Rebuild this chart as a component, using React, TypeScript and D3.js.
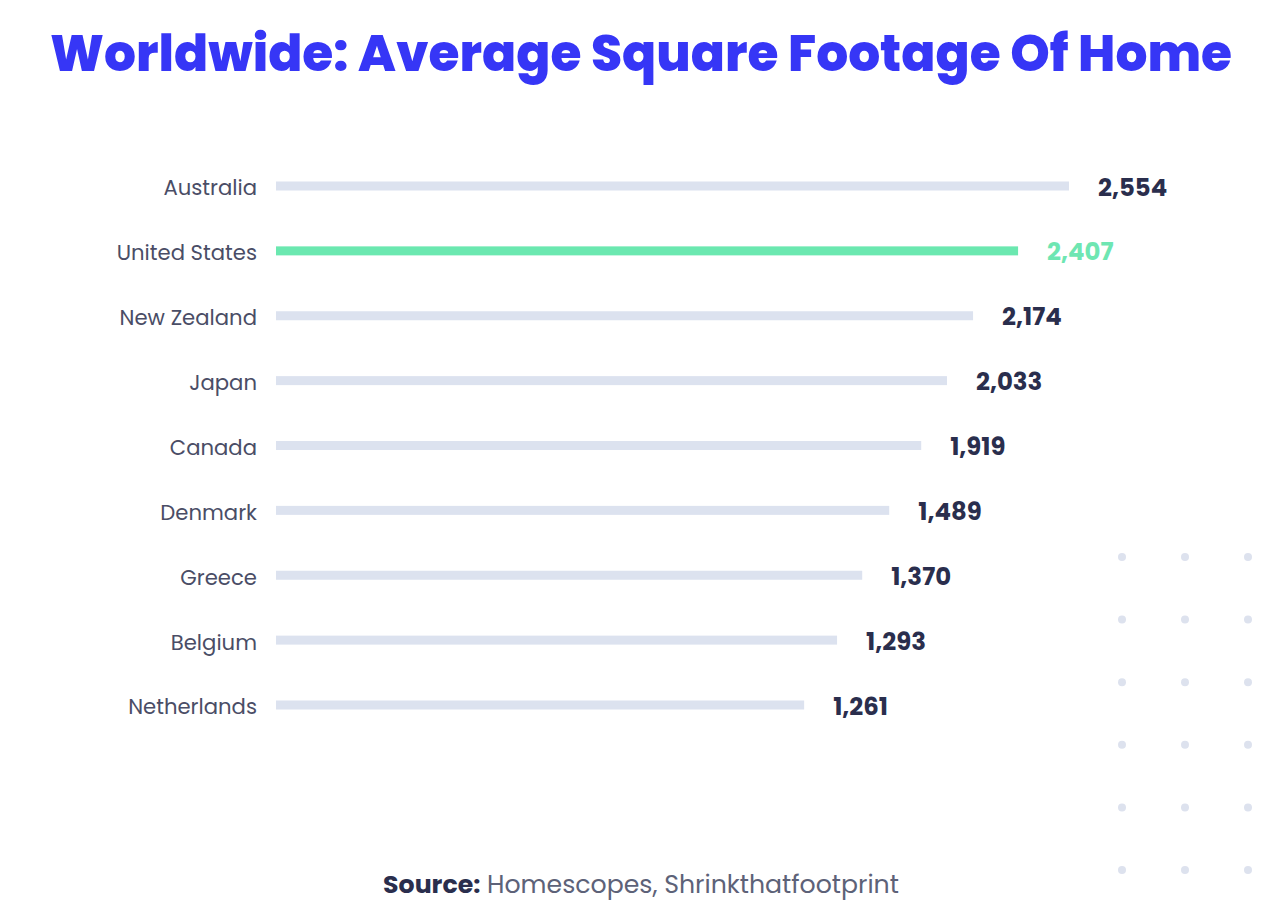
import React from "react";
import * as d3 from "d3";

const countries = [
  "Australia",
  "United States",
  "New Zealand",
  "Japan",
  "Canada",
  "Denmark",
  "Greece",
  "Belgium",
  "Netherlands",
];
// Average square footage (the printed labels)
const values = [2554, 2407, 2174, 2033, 1919, 1489, 1370, 1293, 1261];
// Extent each bar is drawn to in the picture (bars are not proportional to the labels)
const barExtent = [2554, 2390, 2245, 2161, 2078, 1975, 1888, 1807, 1701];
const highlight = "United States";
const dotCols = [0, 1, 2];
const dotRows = [0, 1, 2, 3, 4, 5];

const W = 1288;
const H = 914;

export default function App() {
  const x = d3.scaleLinear().domain([0, d3.max(barExtent) as number]).range([276, 1069]);
  const y = d3.scalePoint<string>().domain(countries).range([186, 705]);
  const dx = d3.scalePoint<number>().domain(dotCols).range([1122, 1248]);
  const dy = d3.scalePoint<number>().domain(dotRows).range([557, 870]);
  const fmt = d3.format(",");
  const font = "Poppins, 'Open Sans', 'Noto Sans', sans-serif";

  return (
    <svg
      width={W}
      height={H}
      style={{ position: "absolute", left: 0, top: 0, background: "#fff" }}
    >
      <text
        x={50}
        y={71}
        textLength={1182}
        lengthAdjust="spacingAndGlyphs"
        fill="#3636F6"
        fontFamily={font}
        fontWeight={800}
        fontSize={50}
      >
        Worldwide: Average Square Footage Of Home
      </text>

      {dotRows.map((r) =>
        dotCols.map((c) => (
          <circle key={`${r}-${c}`} cx={dx(c)} cy={dy(r)} r={4} fill="#dde2ee" />
        ))
      )}

      {countries.map((c, i) => {
        const yc = y(c) as number;
        const hi = c === highlight;
        return (
          <g key={c}>
            <text
              x={257}
              y={yc + 2}
              dy="0.35em"
              textAnchor="end"
              fill="#4a4d66"
              fontFamily={font}
              fontSize={21.2}
            >
              {c}
            </text>
            <rect
              x={x(0)}
              y={yc - 4.5}
              width={x(barExtent[i]) - x(0)}
              height={9}
              fill={hi ? "#6be8b0" : "#dce2ef"}
            />
            <text
              x={x(barExtent[i]) + 29}
              y={yc + 1}
              dy="0.35em"
              fill={hi ? "#6ee6b2" : "#2a2e4d"}
              fontFamily={font}
              fontWeight={700}
              fontSize={24.4}
            >
              {fmt(values[i])}
            </text>
          </g>
        );
      })}

      <text
        x={641}
        y={884}
        dy="0.35em"
        textAnchor="middle"
        fontFamily={font}
        fontSize={25.2}
      >
        <tspan fill="#2a2e4d" fontWeight={700}>Source:</tspan>
        <tspan fill="#5d6278"> Homescopes, Shrinkthatfootprint</tspan>
      </text>
    </svg>
  );
}
